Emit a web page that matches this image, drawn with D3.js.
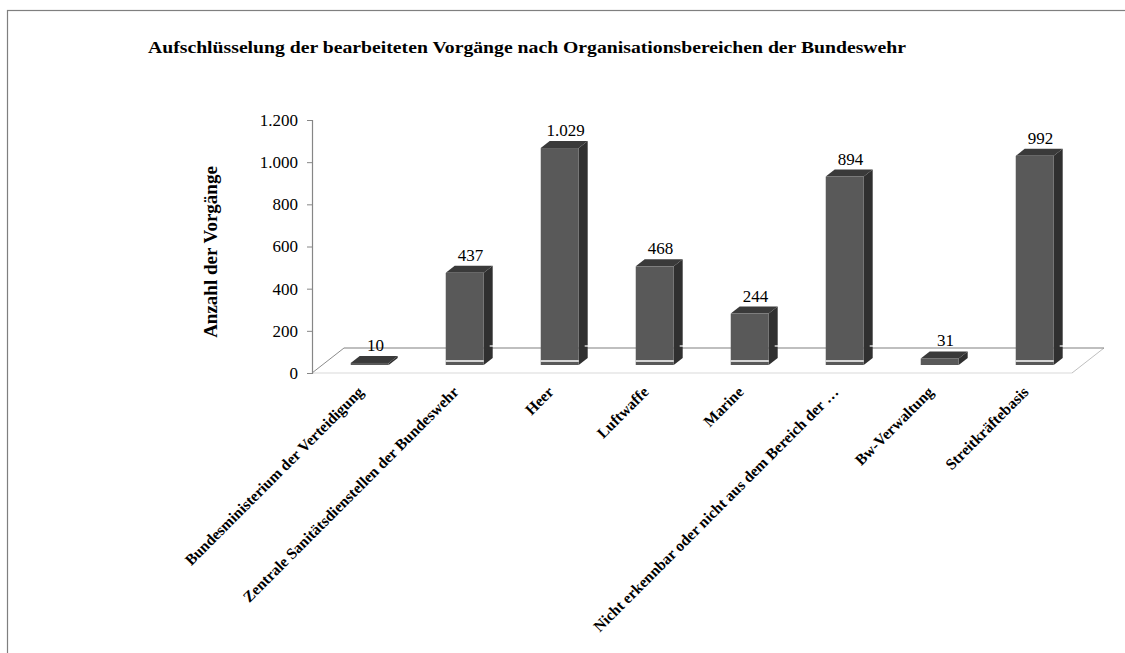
<!DOCTYPE html>
<html>
<head>
<meta charset="utf-8">
<script src="https://cdn.jsdelivr.net/npm/d3@7/dist/d3.min.js"></script>
<style>
  html, body { margin: 0; padding: 0; background: #fff; }
  svg { display: block; }
  svg text { font-family: "Liberation Serif", "Times New Roman", Times, serif !important; fill: #000; }
</style>
</head>
<body>
<svg id="chart" width="1125" height="653"></svg>
<script>
const categories = [
  "Bundesministerium der Verteidigung",
  "Zentrale Sanitätsdienstellen der Bundeswehr",
  "Heer",
  "Luftwaffe",
  "Marine",
  "Nicht erkennbar oder nicht aus dem Bereich der …",
  "Bw-Verwaltung",
  "Streitkräftebasis"
];
const values = [10, 437, 1029, 468, 244, 894, 31, 992];
const valueLabels = ["10", "437", "1.029", "468", "244", "894", "31", "992"];
const yTicks = [0, 200, 400, 600, 800, 1000, 1200];
const yTickLabels = ["0", "200", "400", "600", "800", "1.000", "1.200"];
const titleText = "Aufschlüsselung der bearbeiteten Vorgänge nach Organisationsbereichen der Bundeswehr";
const yTitle = "Anzahl der Vorgänge";

const svg = d3.select("#chart");

// frame
svg.append("rect").attr("x", 7.5).attr("y", 10.5).attr("width", 1200).attr("height", 800)
  .attr("fill", "none").attr("stroke", "#7f7f7f").attr("stroke-width", 1.2);

// title
svg.append("text").attr("x", 148).attr("y", 53).text(titleText)
  .attr("font-weight", "bold").attr("font-size", 16)
  .attr("textLength", 758).attr("lengthAdjust", "spacingAndGlyphs");

// scales
const left = 312, right = 1072, floorY = 373;
const x = d3.scaleBand().domain(categories).range([left, right]).paddingInner(0).paddingOuter(0);
const y = d3.scaleLinear().domain([0, 1200]).range([floorY, 120]);
const D = [32, -25]; // full depth vector of the floor
const t0 = 0.32, t1 = 0.6; // bar depth positions
const barW = 38;

const plot = svg.append("g");

// floor lines
const bl = [left + D[0], floorY + D[1]];
plot.append("line").attr("x1", left).attr("y1", floorY).attr("x2", right).attr("y2", floorY)
  .attr("stroke", "#d9d9d9").attr("stroke-width", 1.2);
plot.append("line").attr("x1", right).attr("y1", floorY).attr("x2", right + D[0]).attr("y2", floorY + D[1])
  .attr("stroke", "#bfbfbf").attr("stroke-width", 1);
plot.append("line").attr("x1", bl[0]).attr("y1", bl[1]).attr("x2", right + D[0]).attr("y2", floorY + D[1])
  .attr("stroke", "#808080").attr("stroke-width", 1.2);
plot.append("line").attr("x1", left).attr("y1", floorY).attr("x2", bl[0]).attr("y2", bl[1])
  .attr("stroke", "#8c8c8c").attr("stroke-width", 1);

// y axis
const axisG = plot.append("g").attr("transform", `translate(${left},0)`)
  .call(d3.axisLeft(y).tickValues(yTicks).tickSize(5).tickFormat((d, i) => yTickLabels[i]));
axisG.attr("font-family", null);
axisG.select(".domain").attr("stroke", "#868686").attr("stroke-width", 1.2);
axisG.selectAll(".tick line").attr("stroke", "#868686");
axisG.selectAll(".tick text").attr("font-size", 17).attr("x", -14);

// y title
svg.append("text").attr("transform", "translate(217,252) rotate(-90)")
  .attr("text-anchor", "middle").text(yTitle)
  .attr("font-weight", "bold").attr("font-size", 19);

// bars
const dx0 = t0 * D[0], dy0 = t0 * D[1];
const ddx = (t1 - t0) * D[0], ddy = (t1 - t0) * D[1];
const bars = plot.selectAll("g.bar").data(values).enter().append("g").attr("class", "bar");
bars.each(function(v, i) {
  const g = d3.select(this);
  const cx = x(categories[i]) + x.bandwidth() / 2 + dx0;
  const x0 = cx - barW / 2, x1 = cx + barW / 2;
  const yb = y(0) + dy0, yt = y(v) + dy0;
  g.append("path").attr("d", `M${x1},${yt}L${x1 + ddx},${yt + ddy}L${x1 + ddx},${yb + ddy}L${x1},${yb}Z`)
    .attr("fill", "#303030");
  g.append("path").attr("d", `M${x0},${yt}L${x1},${yt}L${x1 + ddx},${yt + ddy}L${x0 + ddx},${yt + ddy}Z`)
    .attr("fill", "#3a3a3a");
  g.append("rect").attr("x", x0).attr("y", yt).attr("width", barW).attr("height", Math.max(0.8, yb - yt))
    .attr("fill", "#595959");
  if (v > 100) {
    g.append("line").attr("x1", x0).attr("x2", x1).attr("y1", yb - 4).attr("y2", yb - 4)
      .attr("stroke", "#ffffff").attr("stroke-width", 1.4);
    g.append("line").attr("x1", x1 + ddx - 3).attr("x2", x1 + ddx + 3).attr("y1", bl[1] - 2).attr("y2", bl[1] - 2)
      .attr("stroke", "#ffffff").attr("stroke-width", 1.2);
  }
  g.append("text").attr("x", cx + ddx * 0.65).attr("y", yt + ddy - 5)
    .attr("text-anchor", "middle").text(valueLabels[i])
    .attr("font-size", 17);
});

// category labels
svg.append("g").selectAll("text").data(categories).enter().append("text")
  .attr("transform", d => `translate(${x(d) + x.bandwidth() / 2 + 5},393) rotate(-45)`)
  .attr("text-anchor", "end").text(d => d)
  .attr("font-weight", "bold").attr("font-size", 15.5);
</script>
</body>
</html>
